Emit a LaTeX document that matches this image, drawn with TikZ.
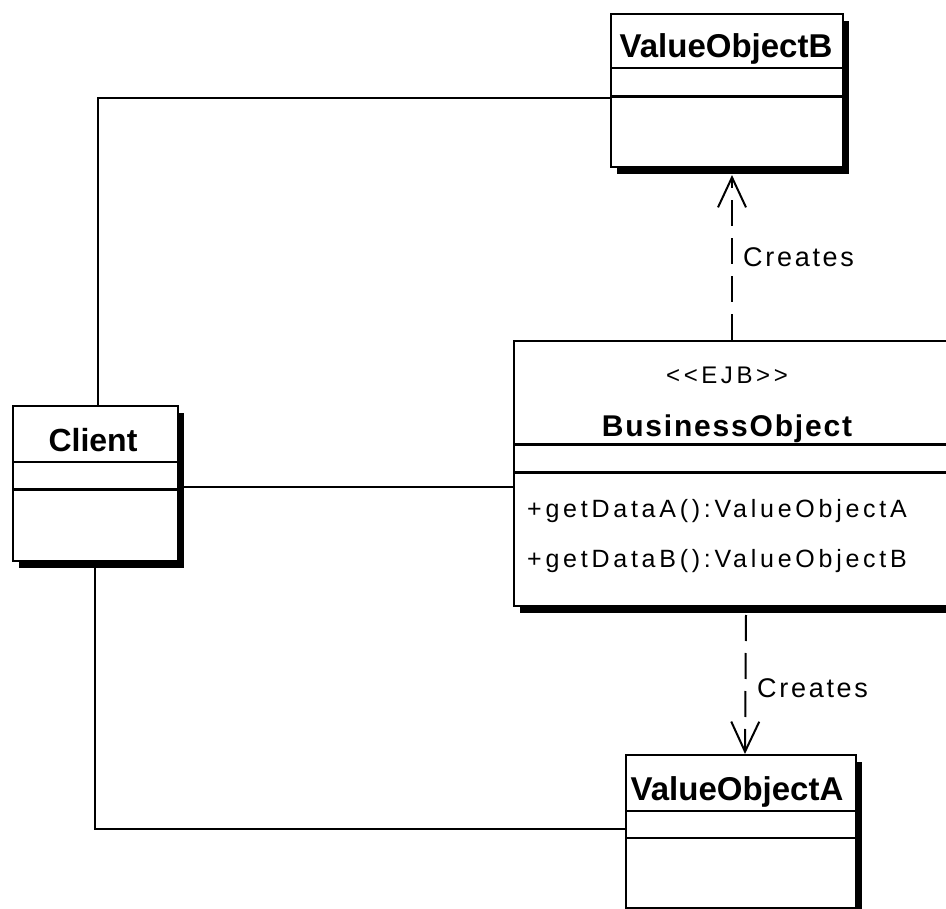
\documentclass[tikz,border=0pt]{standalone}
\usepackage{fontspec}
\setmainfont{Liberation Sans}
\newfontfamily\regfont{Liberation Sans}[LetterSpace=15]
\newfontfamily\crfont{Liberation Sans}[LetterSpace=10]
\newfontfamily\bofont{Liberation Sans}[LetterSpace=6]
\usetikzlibrary{arrows.meta,shadows}
\begin{document}
\begin{tikzpicture}[x=1pt,y=-1pt,
  umlbox/.style={draw, line width=2pt, fill=white, rectangle, anchor=north west, inner sep=0pt,
    drop shadow={shadow xshift=6pt, shadow yshift=-7pt, fill=black, opacity=1, draw=none}},
  cname/.style={font=\fontsize{33}{33}\selectfont\bfseries, inner sep=0pt, anchor=base},
  boname/.style={font=\bofont\fontsize{30}{30}\selectfont\bfseries, inner sep=0pt, anchor=base},
  ctext/.style={font=\regfont\fontsize{25}{25}\selectfont, inner sep=0pt, anchor=base west},
  stereo/.style={font=\regfont\fontsize{24}{24}\selectfont, inner sep=0pt, anchor=base},
  crlabel/.style={font=\crfont\fontsize{27}{27}\selectfont, inner sep=0pt, anchor=base west},
  sepa/.style={line width=1.8pt},
  sepb/.style={line width=3pt},
  assoc/.style={line width=2.4pt},
  dep/.style={line width=2pt, dash pattern=on 26pt off 12pt,
    -{Straight Barb[length=30pt,width=28pt,line width=2pt]}},
]
\useasboundingbox (0,0) rectangle (946,909);
\clip (0,0) rectangle (946,909);

% boxes
\node[umlbox, minimum width=232pt, minimum height=153pt] (vob) at (610,13) {};
\node[umlbox, minimum width=165pt, minimum height=155pt] (client) at (12,405) {};
\node[umlbox, minimum width=450pt, minimum height=265pt] (bo) at (513,340) {};
\node[umlbox, minimum width=230pt, minimum height=153pt] (voa) at (625,754) {};

% compartments
\draw[sepa] (vob.west |- 0,68) -- (vob.east |- 0,68);
\draw[sepb] (vob.west |- 0,97) -- (vob.east |- 0,97);
\draw[sepa] (client.west |- 0,462) -- (client.east |- 0,462);
\draw[sepb] (client.west |- 0,489) -- (client.east |- 0,489);
\draw[sepb] (bo.west |- 0,445) -- (bo.east |- 0,445);
\draw[sepb] (bo.west |- 0,473) -- (bo.east |- 0,473);
\draw[sepa] (voa.west |- 0,811) -- (voa.east |- 0,811);
\draw[sepa] (voa.west |- 0,838) -- (voa.east |- 0,838);

% texts
\node[cname] (vobname) at (726,58) {ValueObjectB};
\node[cname, font=\fontsize{32}{32}\selectfont\bfseries] (clientname) at (93,452) {Client};
\node[stereo] (ejb) at (727,384) {<<EJB>>};
\node[boname] (boname) at (727,437) {BusinessObject};
\node[ctext] (opa) at (527,518) {+getDataA():ValueObjectA};
\node[ctext] (opb) at (527,567) {+getDataB():ValueObjectB};
\node[cname] (voaname) at (737,800) {ValueObjectA};

% associations
\draw[assoc] ([xshift=2.5pt]client.north) |- (vob.west |- 0,98);
\draw[assoc] ([yshift=-3.5pt]client.east) -- ([yshift=-3.5pt]client.east -| bo.west);
\draw[assoc] ([xshift=-0.5pt]client.south) |- ([yshift=2.5pt]voa.west);

% dependencies
\draw[dep] ([xshift=5pt]vob.south |- bo.north) -- ([xshift=5pt,yshift=-7pt]vob.south);
\node[crlabel] (cr1) at (743,267) {Creates};
\draw[dep] ([xshift=5pt,yshift=-8pt]voa.north |- bo.south) -- ([xshift=4pt]voa.north);
\node[crlabel] (cr2) at (757,697) {Creates};
\end{tikzpicture}
\end{document}
